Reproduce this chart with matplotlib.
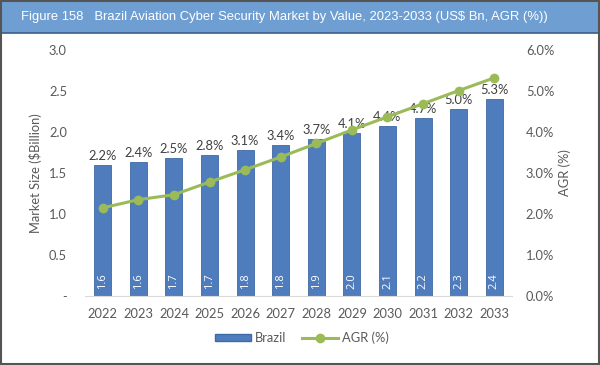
import matplotlib.pyplot as plt
import matplotlib.patches as mpatches
from matplotlib.lines import Line2D
import numpy as np

# data
years = ['2022', '2023', '2024', '2025', '2026', '2027', '2028', '2029', '2030', '2031', '2032', '2033']
market = [1.60, 1.63, 1.68, 1.72, 1.78, 1.84, 1.91, 1.99, 2.07, 2.17, 2.28, 2.40]
agr = [2.15, 2.35, 2.47, 2.78, 3.08, 3.39, 3.72, 4.05, 4.37, 4.69, 5.01, 5.32]
agr_labels = ['2.2%', '2.4%', '2.5%', '2.8%', '3.1%', '3.4%', '3.7%', '4.1%', '4.4%', '4.7%', '5.0%', '5.3%']

bar_color = '#4f7cbc'
line_color = '#9bbb59'
grey = '#595959'
font = 'Lato'
fs = 9.3

fig = plt.figure(figsize=(6, 3.65), dpi=100)

# title bar
fig.patches.append(mpatches.Rectangle((0, 1 - 33 / 365), 1, 33 / 365, transform=fig.transFigure,
                                      facecolor='#6f9fd2', edgecolor='#3d5f86', linewidth=1.2))
fig.text(0.035, 1 - 17 / 365, 'Figure 158   Brazil Aviation Cyber Security Market by Value, 2023-2033 (US$ Bn, AGR (%))',
         color='white', fontsize=9.4, family='Liberation Sans', va='center', ha='left')
# outer frame
fig.patches.append(mpatches.Rectangle((0.002, 0.003), 0.996, 0.994, transform=fig.transFigure,
                                      facecolor='none', edgecolor='#555555', linewidth=1.5))

ax = fig.add_axes([85 / 600, 1 - 296 / 365, 427 / 600, 246 / 365])
x = np.arange(len(years))
bars = ax.bar(x, market, width=0.48, color=bar_color, edgecolor='#3f6aa6', linewidth=0.6)
ax.set_xlim(-0.5, len(years) - 0.5)
ax.set_ylim(0, 3.0)
ax.set_yticks([0, 0.5, 1.0, 1.5, 2.0, 2.5, 3.0])
ax.set_yticklabels(['-', '0.5', '1.0', '1.5', '2.0', '2.5', '3.0'])
ax.set_xticks(x)
ax.set_xticklabels(years)
for s in ['top', 'right', 'left']:
    ax.spines[s].set_visible(False)
ax.spines['bottom'].set_color('#d9d9d9')
ax.tick_params(axis='both', length=0, colors=grey, labelsize=fs)
ax.tick_params(axis='x', pad=9)
ax.tick_params(axis='y', pad=13)
for lab in ax.get_xticklabels() + ax.get_yticklabels():
    lab.set_family(font)
ax.set_ylabel('Market Size ($Billion)', color=grey, fontsize=fs, family=font, labelpad=5)

for i, v in enumerate(market):
    ax.text(i, 0.08, f'{v:.1f}', rotation=90, color='white', fontsize=8, family='Open Sans',
            ha='center', va='bottom')
    ax.text(i, v + 0.04, agr_labels[i], color='#404040', fontsize=fs, family=font,
            ha='center', va='bottom')

ax2 = ax.twinx()
ax2.plot(x, agr, color=line_color, linewidth=2.2, marker='o', markersize=6)
ax2.set_ylim(0, 6.0)
ax2.set_yticks([0, 1, 2, 3, 4, 5, 6])
ax2.set_yticklabels([f'{v:.1f}%' for v in range(7)])
for s in ['top', 'right', 'left', 'bottom']:
    ax2.spines[s].set_visible(False)
ax2.tick_params(axis='y', length=0, colors=grey, labelsize=fs, pad=10)
for lab in ax2.get_yticklabels():
    lab.set_family(font)
ax2.set_ylabel('AGR (%)', color=grey, fontsize=fs, family=font, labelpad=3)

handles = [mpatches.Patch(facecolor=bar_color, edgecolor='#3f6aa6', label='Brazil'),
           Line2D([0], [0], color=line_color, linewidth=2.2, marker='o', markersize=6, label='AGR (%)')]
fig.legend(handles=handles, loc='center', bbox_to_anchor=(0.503, 1 - 338 / 365), ncol=2, frameon=False,
           prop={'family': font, 'size': fs}, labelcolor=grey, handlelength=2.8, handleheight=0.5,
           columnspacing=1.2, handletextpad=0.3)

fig.savefig('out.png', dpi=100)
